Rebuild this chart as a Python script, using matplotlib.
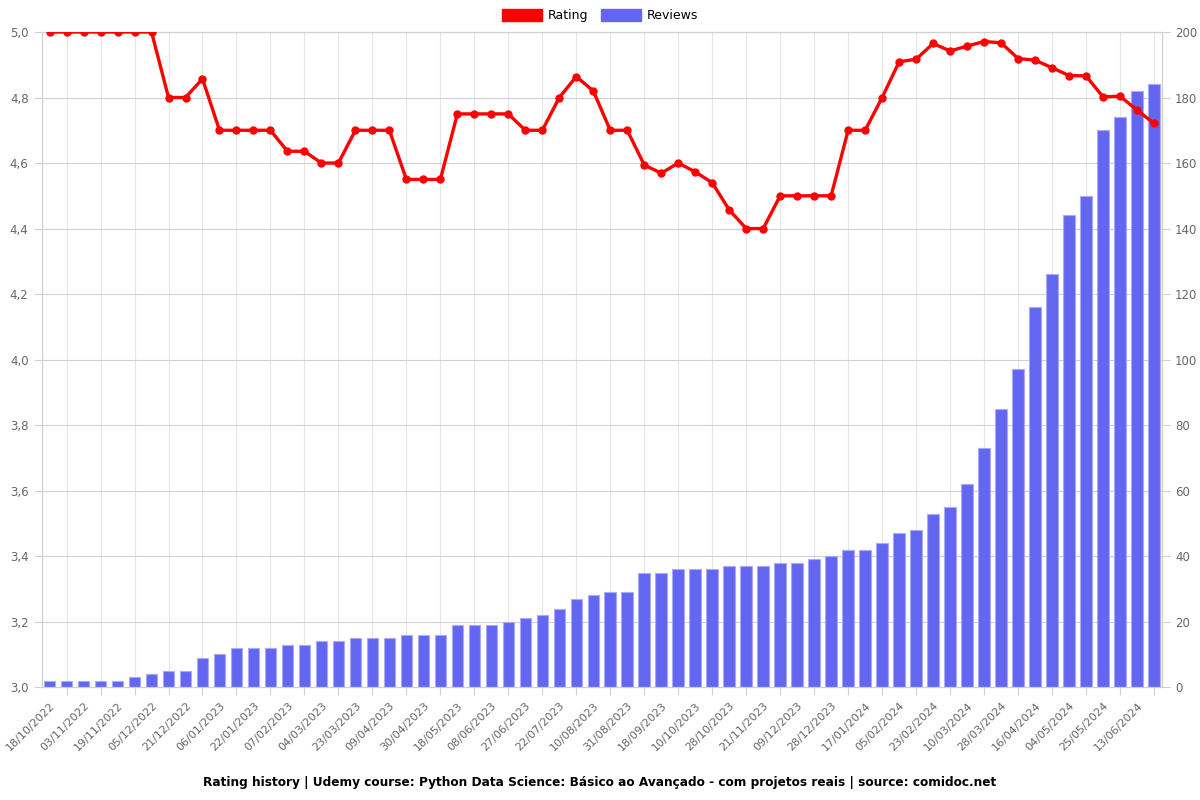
import matplotlib
matplotlib.use("Agg")
import matplotlib.pyplot as plt
from matplotlib.patches import Patch
from matplotlib.ticker import FuncFormatter, MultipleLocator
from matplotlib.transforms import ScaledTranslation

# one label per two snapshots (odd positions)
date_labels = [
    "18/10/2022", "03/11/2022", "19/11/2022", "05/12/2022", "21/12/2022",
    "06/01/2023", "22/01/2023", "07/02/2023", "04/03/2023", "23/03/2023",
    "09/04/2023", "30/04/2023", "18/05/2023", "08/06/2023", "27/06/2023",
    "22/07/2023", "10/08/2023", "31/08/2023", "18/09/2023", "10/10/2023",
    "28/10/2023", "21/11/2023", "09/12/2023", "28/12/2023", "17/01/2024",
    "05/02/2024", "23/02/2024", "10/03/2024", "28/03/2024", "16/04/2024",
    "04/05/2024", "25/05/2024", "13/06/2024",
]

ratings = [
    5.0, 5.0, 5.0, 5.0, 5.0, 5.0, 5.0, 4.8, 4.8, 4.857,
    4.7, 4.7, 4.7, 4.7, 4.636, 4.636, 4.6, 4.6, 4.7, 4.7,
    4.7, 4.55, 4.55, 4.55, 4.75, 4.75, 4.75, 4.75, 4.7, 4.7,
    4.8, 4.864, 4.82, 4.7, 4.7, 4.594, 4.569, 4.6, 4.573, 4.54,
    4.457, 4.4, 4.4, 4.5, 4.5, 4.5, 4.5, 4.7, 4.7, 4.8,
    4.909, 4.917, 4.965, 4.942, 4.957, 4.971, 4.967, 4.919, 4.914, 4.891,
    4.867, 4.866, 4.802, 4.804, 4.762, 4.721,
]

reviews = [
    2, 2, 2, 2, 2, 3, 4, 5, 5, 9,
    10, 12, 12, 12, 13, 13, 14, 14, 15, 15,
    15, 16, 16, 16, 19, 19, 19, 20, 21, 22,
    24, 27, 28, 29, 29, 35, 35, 36, 36, 36,
    37, 37, 37, 38, 38, 39, 40, 42, 42, 44,
    47, 48, 53, 55, 62, 73, 85, 97, 116, 126,
    144, 150, 170, 174, 182, 184,
]

RED = "#ff0000"
BLUE = "#6366f1"
GRID = "#d0d0d0"
TEXT = "#666666"

x = list(range(len(reviews)))

fig = plt.figure(figsize=(12, 8), dpi=100)
ax = fig.add_axes([0.0348, 0.141, 0.9335, 0.819])

# bars on the base axes (right-hand scale), line on a twin above them
ax.bar(x, reviews, width=0.68, color=BLUE, edgecolor="#a9abf8", linewidth=0.8, zorder=2)
ax.set_ylim(0, 200)
ax.yaxis.set_major_locator(MultipleLocator(20))
ax.set_xlim(-0.46, len(reviews) - 0.53)
ax.set_xticks(x[1::2])
ax.set_xticklabels(date_labels, rotation=45, ha="right")
ax.set_axisbelow(True)
ax.grid(axis="y", color=GRID, linewidth=0.8)
ax.grid(axis="x", color="#e6e6e6", linewidth=0.8)

ax2 = ax.twinx()
ax.yaxis.tick_right()
ax.yaxis.set_label_position("right")
ax2.yaxis.tick_left()
ax2.yaxis.set_label_position("left")
ax2.plot(x, ratings, color=RED, linewidth=2.4, marker="o", markersize=5, zorder=3)
ax2.set_ylim(3.0, 5.0)
ax2.yaxis.set_major_locator(MultipleLocator(0.2))
ax2.yaxis.set_major_formatter(FuncFormatter(lambda v, p: f"{v:.1f}".replace(".", ",")))

for a in (ax, ax2):
    for s in a.spines.values():
        s.set_color(GRID)
    a.tick_params(colors=GRID, labelcolor=TEXT, labelsize=8.5, length=6, width=0.8)
ax.tick_params(axis="x", labelsize=8)

# shift rotated date labels so their ends sit beside the tick
offset = ScaledTranslation(-7 / 72, 0, fig.dpi_scale_trans)
for lab in ax.get_xticklabels():
    lab.set_transform(lab.get_transform() + offset)

handles = [Patch(facecolor=RED, edgecolor=RED), Patch(facecolor=BLUE, edgecolor=BLUE)]
fig.legend(handles, ["Rating", "Reviews"], loc="upper center", bbox_to_anchor=(0.5, 1.003),
           ncol=2, frameon=False, fontsize=9, handlelength=3.2, handleheight=1.1,
           columnspacing=1.0, handletextpad=0.5)

fig.text(0.5, 0.022, "Rating history | Udemy course: Python Data Science: Básico ao Avançado"
         " - com projetos reais | source: comidoc.net",
         ha="center", va="center", fontsize=8.7, fontweight="bold")

fig.savefig("out.png", dpi=100)
